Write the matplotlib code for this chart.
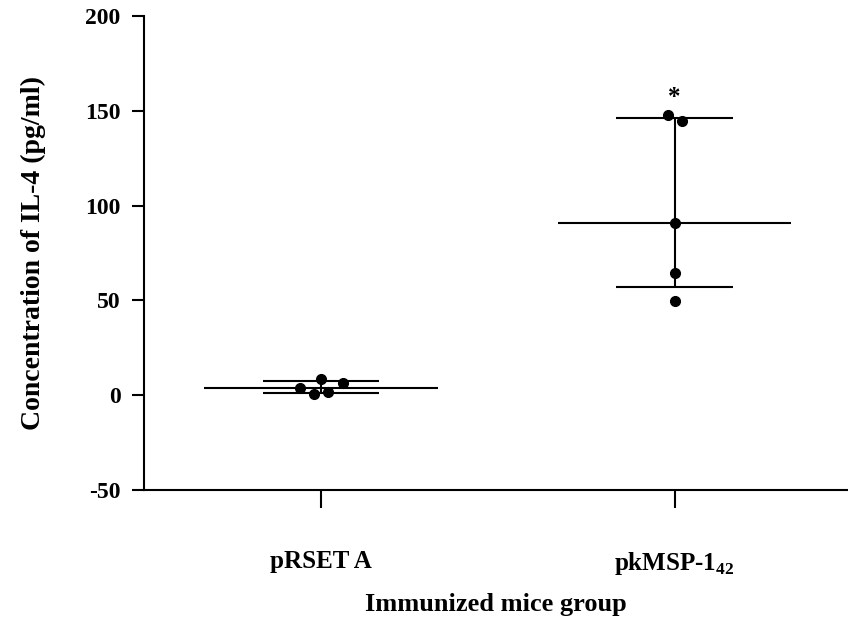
import numpy as np
import matplotlib
matplotlib.use("Agg")
import matplotlib.pyplot as plt

# Data (IL-4, pg/ml)
groups = ["pRSET A", "pkMSP-1$_{42}$"]
prset_a = [4.0, 0.6, 8.5, 1.7, 6.6]
pkmsp_142 = [147.8, 144.6, 91.0, 64.3, 49.7]
jitter_a = [-0.06, -0.02, 0.0, 0.02, 0.062]
jitter_b = [-0.02, 0.022, 0.0, 0.0, 0.0]
star_y = 157

plt.rcParams["font.family"] = ["Liberation Serif", "DejaVu Serif"]
plt.rcParams["font.weight"] = "bold"
plt.rcParams["axes.unicode_minus"] = False
plt.rcParams["mathtext.fontset"] = "custom"
plt.rcParams["mathtext.rm"] = "Liberation Serif"

fig = plt.figure(figsize=(8.48, 6.19), dpi=100)
ax = fig.add_axes([0.17, 0.2084, 0.83, 0.7656])

# median with interquartile range, points scattered around each group
for i, (vals, jit) in enumerate([(prset_a, jitter_a), (pkmsp_142, jitter_b)]):
    vals = np.array(vals)
    med = np.median(vals)
    q1, q3 = np.percentile(vals, [25, 75], method="weibull")
    ax.plot(i + np.array(jit), vals, "o", color="black", ms=7, zorder=3)
    ax.hlines(med, i - 0.33, i + 0.33, color="black", lw=1.5)
    ax.hlines([q1, q3], i - 0.165, i + 0.165, color="black", lw=1.5)
    ax.vlines(i, q1, q3, color="black", lw=1.5)

ax.text(1, star_y, "*", ha="center", va="center", fontsize=18, fontweight="bold")

ax.set_xlim(-0.5, 1.49)
ax.set_ylim(-50, 200)
ax.set_yticks([-50, 0, 50, 100, 150, 200])
ax.set_xticks([0, 1])
ax.set_xticklabels(groups)

for s in ["top", "right"]:
    ax.spines[s].set_visible(False)
for s in ["left", "bottom"]:
    ax.spines[s].set_linewidth(1.5)

ax.tick_params(axis="y", length=9, width=1.5, labelsize=17, pad=8)
ax.tick_params(axis="x", length=13, width=1.5, labelsize=18, pad=30)

ax.set_ylabel("Concentration of IL-4 (pg/ml)", fontsize=20, fontweight="bold", labelpad=28)
ax.set_xlabel("Immunized mice group", fontsize=19, fontweight="bold", labelpad=12)

fig.savefig("out.png", dpi=100)
